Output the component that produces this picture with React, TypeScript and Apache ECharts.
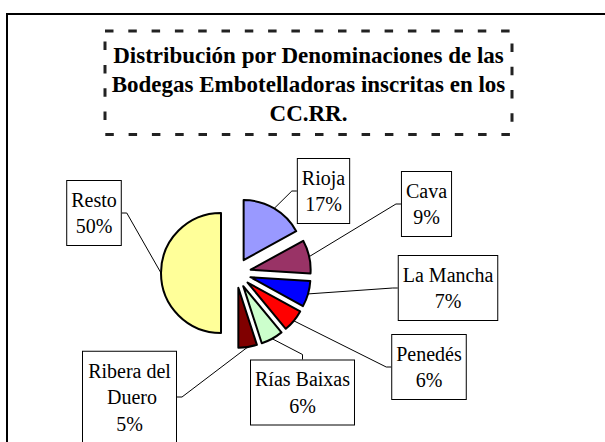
import React, { useEffect, useRef } from "react";
import * as echarts from "echarts";

const categories = ["Rioja", "Cava", "La Mancha", "Penedés", "Rías Baixas", "Ribera del Duero", "Resto"];
const shares = [17, 9, 7, 6, 6, 5, 50];
const sliceColors = ["#9999FF", "#993366", "#0000FF", "#FF0000", "#CCFFCC", "#800000", "#FFFF99"];
const titleLines = [
  "Distribución por Denominaciones de las",
  "Bodegas Embotelladoras inscritas en los",
  "CC.RR.",
];
// centres of the label boxes (layout, not data)
const labelCenters: number[][] = [
  [323.5, 191],
  [426.5, 204],
  [448, 288],
  [429, 367],
  [302.5, 392.5],
  [129.5, 397],
  [94, 213],
];

const FONT = "'Liberation Serif', 'Times New Roman', serif";
const PIE_CENTER = [236, 273];
const PIE_RADIUS = 60;
const EXPLODE = 15;

export default function App() {
  const ref = useRef<HTMLDivElement>(null);
  useEffect(() => {
    if (!ref.current) return;
    const chart = echarts.init(ref.current, undefined, { renderer: "svg" });
    const total = shares.reduce((a, b) => a + b, 0);
    let cum = 0;
    const series = categories.map((name, i) => {
      const startFrac = cum / total;
      const midFrac = (cum + shares[i] / 2) / total;
      cum += shares[i];
      const mid = midFrac * 2 * Math.PI; // clockwise from 12 o'clock
      const cx = PIE_CENTER[0] + EXPLODE * Math.sin(mid);
      const cy = PIE_CENTER[1] - EXPLODE * Math.cos(mid);
      return {
        type: "pie",
        name,
        center: [cx, cy],
        radius: PIE_RADIUS,
        startAngle: 90 - startFrac * 360,
        clockwise: true,
        percentPrecision: 0,
        avoidLabelOverlap: false,
        emphasis: { disabled: true },
        silent: true,
        labelLayout: () => ({
          x: labelCenters[i][0],
          y: labelCenters[i][1],
          align: "center",
          verticalAlign: "middle",
        }),
        data: [
          {
            name,
            value: shares[i],
            itemStyle: { color: sliceColors[i], borderColor: "#000", borderWidth: 2 },
            label: {
              show: true,
              position: "outside",
              formatter: "{b}\n{d}%",
              fontFamily: FONT,
              fontSize: 20,
              lineHeight: 26.5,
              color: "#000",
              align: "center",
              backgroundColor: "#fff",
              borderColor: "#000",
              borderWidth: 1,
              padding: [5.5, 4],
              ...(name === "Ribera del Duero" ? { width: 85, overflow: "break" } : {}),
            },
            labelLine: {
              show: true,
              length: 8,
              length2: 5,
              lineStyle: { color: "#000", width: 1 },
            },
          },
          {
            name: "",
            value: total - shares[i],
            itemStyle: { color: "rgba(0,0,0,0)", borderWidth: 0 },
            label: { show: false },
            labelLine: { show: false },
          },
        ],
      };
    });
    chart.setOption({
      animation: false,
      backgroundColor: "#fff",
      graphic: [
        {
          type: "rect",
          shape: { x: 7, y: 14, width: 700, height: 600 },
          style: { fill: "none", stroke: "#000", lineWidth: 2 },
          silent: true,
        },
        {
          type: "rect",
          shape: { x: 105, y: 31, width: 407, height: 103.5 },
          style: { fill: "none", stroke: "#222", lineWidth: 3, lineDash: [8.5, 14.8] },
          silent: true,
        },
        {
          type: "text",
          x: 308.5,
          y: 84,
          style: {
            text: titleLines.join("\n"),
            align: "center",
            verticalAlign: "middle",
            fontFamily: FONT,
            fontSize: 23,
            fontWeight: "bold",
            lineHeight: 29,
            fill: "#000",
          },
          silent: true,
        },
      ],
      series,
    });
    return () => chart.dispose();
  }, []);
  return (
    <div
      ref={ref}
      style={{ position: "absolute", left: 0, top: 0, width: 605, height: 442 }}
    />
  );
}
